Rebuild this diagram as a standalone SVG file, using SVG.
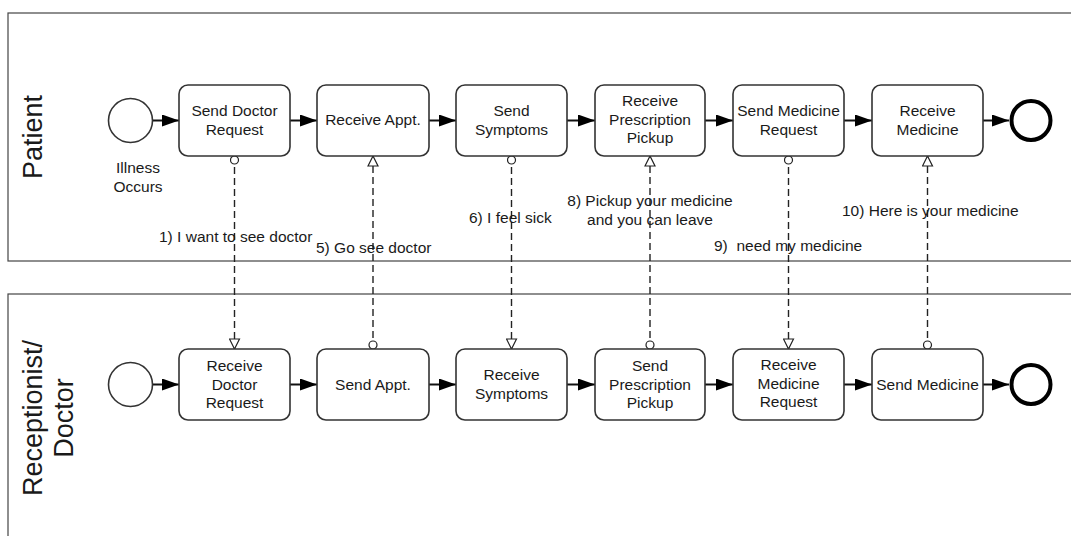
<svg xmlns="http://www.w3.org/2000/svg" width="1071" height="536" viewBox="0 0 1071 536">
<defs>
<style>
.pool{fill:none;stroke:#444;stroke-width:1.2}
.task{fill:#fff;stroke:#333;stroke-width:1.6}
.ev{fill:#fff;stroke:#333;stroke-width:1.6}
.end{fill:#fff;stroke:#000;stroke-width:4}
text{font-family:"Liberation Sans",Arial,sans-serif;font-size:15.5px;fill:#1a1a1a;white-space:pre}
.t{text-anchor:middle}
.lane{font-size:27px;text-anchor:middle}
.seq{stroke:#111;stroke-width:2;fill:none;marker-end:url(#fa)}
.msg{stroke:#222;stroke-width:1.4;fill:none;stroke-dasharray:7,4;marker-end:url(#oa);marker-start:url(#oc)}
</style>
<marker id="fa" viewBox="0 0 17 12" refX="17" refY="6" markerWidth="17" markerHeight="12" markerUnits="userSpaceOnUse" orient="auto">
<path d="M0,0 L17,6 L0,12 z" fill="#000"/>
</marker>
<marker id="oa" viewBox="0 0 12 12" refX="11" refY="6" markerWidth="12" markerHeight="12" markerUnits="userSpaceOnUse" orient="auto">
<path d="M1,1 L11,6 L1,11 z" fill="#fff" stroke="#222" stroke-width="1.2"/>
</marker>
<marker id="oc" viewBox="0 0 10 10" refX="1" refY="5" markerWidth="10" markerHeight="10" markerUnits="userSpaceOnUse" orient="auto">
<circle cx="5" cy="5" r="4" fill="#fff" stroke="#222" stroke-width="1.2"/>
</marker>
</defs>

<g id="pool-patient">
<rect class="pool" x="8" y="13" width="1080" height="248"/>
<text class="lane" transform="translate(42,137) rotate(-90)">Patient</text>
</g>
<g id="pool-receptionist">
<rect class="pool" x="8" y="294" width="1080" height="260"/>
<text class="lane" transform="translate(42,418) rotate(-90)">Receptionist/</text>
<text class="lane" transform="translate(73,418) rotate(-90)">Doctor</text>
</g>

<g id="connectors">
<line class="seq" x1="153" y1="120.5" x2="179" y2="120.5"/>
<line class="seq" x1="290" y1="120.5" x2="317" y2="120.5"/>
<line class="seq" x1="429" y1="120.5" x2="456" y2="120.5"/>
<line class="seq" x1="567" y1="120.5" x2="595" y2="120.5"/>
<line class="seq" x1="705" y1="120.5" x2="733" y2="120.5"/>
<line class="seq" x1="844" y1="120.5" x2="872" y2="120.5"/>
<line class="seq" x1="983" y1="120.5" x2="1009" y2="120.5"/>

<line class="seq" x1="153" y1="384.5" x2="179" y2="384.5"/>
<line class="seq" x1="290" y1="384.5" x2="317" y2="384.5"/>
<line class="seq" x1="429" y1="384.5" x2="456" y2="384.5"/>
<line class="seq" x1="567" y1="384.5" x2="595" y2="384.5"/>
<line class="seq" x1="705" y1="384.5" x2="733" y2="384.5"/>
<line class="seq" x1="844" y1="384.5" x2="872" y2="384.5"/>
<line class="seq" x1="983" y1="384.5" x2="1009" y2="384.5"/>

<line class="msg" x1="234.5" y1="156" x2="234.5" y2="349"/>
<line class="msg" x1="373" y1="349" x2="373" y2="156"/>
<line class="msg" x1="511.5" y1="156" x2="511.5" y2="349"/>
<line class="msg" x1="650" y1="349" x2="650" y2="156"/>
<line class="msg" x1="788.5" y1="156" x2="788.5" y2="349"/>
<line class="msg" x1="927.5" y1="349" x2="927.5" y2="156"/>

<text x="159" y="242">1) I want to see doctor</text>
<text x="316" y="253">5) Go see doctor</text>
<text x="469" y="223">6) I feel sick</text>
<text class="t" x="650" y="206">8) Pickup your medicine</text>
<text class="t" x="650" y="225">and you can leave</text>
<text x="714" y="251" xml:space="preserve">9)  need my medicine</text>
<text x="842" y="216">10) Here is your medicine</text>
</g>

<g id="start-patient">
<circle class="ev" cx="130.5" cy="120.5" r="22"/>
<text class="t" x="138" y="173">Illness</text>
<text class="t" x="138" y="192">Occurs</text>
</g>
<g id="send-doctor-request">
<rect class="task" x="179" y="85" width="111" height="71" rx="9"/>
<text class="t" x="234.5" y="116">Send Doctor</text>
<text class="t" x="234.5" y="135">Request</text>
</g>
<g id="receive-appt">
<rect class="task" x="317" y="85" width="112" height="71" rx="9"/>
<text class="t" x="373" y="125">Receive Appt.</text>
</g>
<g id="send-symptoms">
<rect class="task" x="456" y="85" width="111" height="71" rx="9"/>
<text class="t" x="511.5" y="116">Send</text>
<text class="t" x="511.5" y="135">Symptoms</text>
</g>
<g id="receive-prescription-pickup">
<rect class="task" x="595" y="85" width="110" height="71" rx="9"/>
<text class="t" x="650" y="106">Receive</text>
<text class="t" x="650" y="124.5">Prescription</text>
<text class="t" x="650" y="143">Pickup</text>
</g>
<g id="send-medicine-request">
<rect class="task" x="733" y="85" width="111" height="71" rx="9"/>
<text class="t" x="788.5" y="116">Send Medicine</text>
<text class="t" x="788.5" y="135">Request</text>
</g>
<g id="receive-medicine">
<rect class="task" x="872" y="85" width="111" height="71" rx="9"/>
<text class="t" x="927.5" y="116">Receive</text>
<text class="t" x="927.5" y="135">Medicine</text>
</g>
<g id="end-patient">
<circle class="end" cx="1031" cy="120.5" r="19.5"/>
</g>

<g id="start-receptionist">
<circle class="ev" cx="130.5" cy="384.5" r="22"/>
</g>
<g id="receive-doctor-request">
<rect class="task" x="179" y="349" width="111" height="71" rx="9"/>
<text class="t" x="234.5" y="371">Receive</text>
<text class="t" x="234.5" y="389.5">Doctor</text>
<text class="t" x="234.5" y="408">Request</text>
</g>
<g id="send-appt">
<rect class="task" x="317" y="349" width="112" height="71" rx="9"/>
<text class="t" x="373" y="389.5">Send Appt.</text>
</g>
<g id="receive-symptoms">
<rect class="task" x="456" y="349" width="111" height="71" rx="9"/>
<text class="t" x="511.5" y="380">Receive</text>
<text class="t" x="511.5" y="399">Symptoms</text>
</g>
<g id="send-prescription-pickup">
<rect class="task" x="595" y="349" width="110" height="71" rx="9"/>
<text class="t" x="650" y="371">Send</text>
<text class="t" x="650" y="389.5">Prescription</text>
<text class="t" x="650" y="408">Pickup</text>
</g>
<g id="receive-medicine-request">
<rect class="task" x="733" y="349" width="111" height="71" rx="9"/>
<text class="t" x="788.5" y="370">Receive</text>
<text class="t" x="788.5" y="389">Medicine</text>
<text class="t" x="788.5" y="407">Request</text>
</g>
<g id="send-medicine">
<rect class="task" x="872" y="349" width="111" height="71" rx="9"/>
<text class="t" x="927.5" y="389.5">Send Medicine</text>
</g>
<g id="end-receptionist">
<circle class="end" cx="1031" cy="384.5" r="19.5"/>
</g>
</svg>
